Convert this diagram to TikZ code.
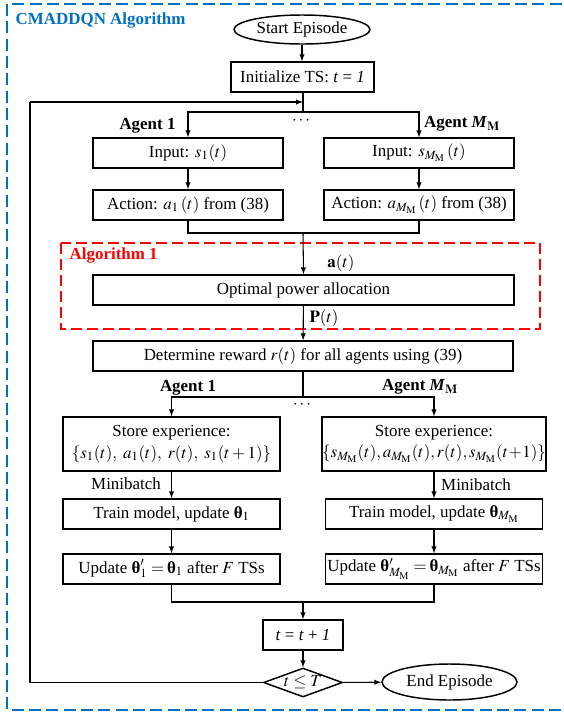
\documentclass[tikz,border=0pt]{standalone}
\usepackage{mathptmx}
\usepackage{amsmath}
\usepackage{fontspec}
\setmainfont{Liberation Serif}
\usetikzlibrary{shapes,arrows}
\definecolor{algblue}{RGB}{0,112,192}
\definecolor{algred}{RGB}{255,0,0}

\begin{document}
\begin{tikzpicture}[x=0.75pt, y=-0.75pt, >=latex,
    every node/.style={font=\fontsize{12.7}{15}\selectfont},
    box/.style={draw, line width=1.1pt, inner sep=0pt, minimum height=30*0.75pt, align=center},
    term/.style={draw, ellipse, line width=1.1pt, inner sep=0pt},
    decide/.style={draw, diamond, aspect=2.6, line width=1.1pt, inner sep=0pt, minimum width=79*0.75pt, minimum height=29*0.75pt},
    flow/.style={->, line width=0.8pt},
    link/.style={line width=0.8pt}]
    \useasboundingbox (0,0) rectangle (564,715);
    % frames
    \draw[algblue, line width=1.1pt, dash pattern=on 9pt off 4pt] (7,4) rectangle (575,710);
    \node[anchor=west, text=algblue, font=\fontsize{12.7}{15}\selectfont\bfseries] at (11,20) (title) {CMADDQN Algorithm};
    \draw[algred, line width=1.1pt, dash pattern=on 8pt off 4pt] (61,243) rectangle (540,329);
    \node[anchor=west, text=algred, font=\fontsize{12.7}{15}\selectfont\bfseries] at (65,255) (algo) {Algorithm 1};
    % top part
    \node[term, minimum width=136*0.75pt, minimum height=29*0.75pt] at (302,29.5) (start) {Start Episode};
    \node[box, minimum width=143*0.75pt] at (302.5,77) (init) {Initialize TS: \textit{t} = \textit{1}};
    \draw[flow] (start.south) -- (start.south |- init.north);
    \coordinate (join) at (303,102);
    \coordinate (loop) at (30,102);
    \coordinate (split1) at (303,112);
    \draw[link] (join |- init.south) -- (split1);
    \node[box, minimum width=190*0.75pt] at (188,153) (in1) {Input: $s_{1}(t)$};
    \node[box, minimum width=190*0.75pt] at (419,153) (inM) {Input: $s_{M_\mathrm{M}}\left(t\right)$};
    \draw[flow] (split1) -| (in1.north);
    \draw[flow] (split1) -| (inM.north);
    \node[font=\fontsize{12.7}{15}\selectfont\bfseries] at (147.5,126) (ag1) {Agent 1};
    \node[font=\fontsize{12.7}{15}\selectfont\bfseries] at (462,124) (agM) {Agent \textit{M}$_{\mathbf{M}}$};
    \node at (302,121) (dots1) {$\boldsymbol{\cdots}$};
    \node[box, minimum width=190*0.75pt] at (188,205) (act1) {Action: $a_{1}\left(t\right)$ from (38)};
    \node[box, minimum width=190*0.75pt] at (419,205) (actM) {Action: $a_{M_\mathrm{M}}\left(t\right)$ from (38)};
    \draw[flow] (in1) -- (act1);
    \draw[flow] (inM) -- (actM);
    \coordinate (mrg1) at (303,233);
    \draw[link] (act1.south) |- (mrg1) -| (actM.south);
    % power allocation
    \node[box, minimum width=421*0.75pt] at (303.5,290) (opt) {Optimal power allocation};
    \draw[flow] (mrg1) -- (opt.north);
    \node at (341,263) (at) {$\mathbf{a}(t)$};
    \node at (324,318) (pt) {$\mathbf{P}(t)$};
    \node[box, minimum width=420*0.75pt] at (303,356) (det) {Determine reward $r(t)$ for all agents using (39)};
    \draw[flow] (opt) -- (det);
    % learning part
    \coordinate (split2) at (303,397);
    \draw[link] (det.south) -- (split2);
    \node[box, minimum width=217*0.75pt, minimum height=54*0.75pt] at (171.5,444) (st1) {Store experience:\\[1pt] $\left\{s_{1}(t),\ a_{1}(t),\ r(t),\ s_{1}(t+1)\right\}$};
    \node[box, minimum width=217*0.75pt, minimum height=54*0.75pt] at (434,444) (stM) {Store experience:\\[1pt] $\left\{s_{M_\mathrm{M}}(t), a_{M_\mathrm{M}}(t), r(t), s_{M_\mathrm{M}}(t\!+\!1)\right\}$};
    \draw[flow] (split2) -| (st1.north);
    \draw[flow] (split2) -| (stM.north);
    \node[font=\fontsize{12.7}{15}\selectfont\bfseries] at (188,388) (ag1b) {Agent 1};
    \node[font=\fontsize{12.7}{15}\selectfont\bfseries] at (420,387) (agMb) {Agent \textit{M}$_{\mathbf{M}}$};
    \node at (303,405) (dots2) {$\boldsymbol{\cdots}$};
    \node[box, minimum width=217*0.75pt] at (171.5,514) (tr1) {Train model, update \textbf{θ}$_{1}$};
    \node[box, minimum width=217*0.75pt] at (434,514) (trM) {Train model, update \textbf{θ}$_{M_\mathrm{M}}$};
    \draw[flow] (st1) -- (tr1);
    \draw[flow] (stM) -- (trM);
    \node at (126,484) (mb1) {Minibatch};
    \node at (476,485) (mbM) {Minibatch};
    \node[box, minimum width=217*0.75pt] at (171.5,569) (up1) {Update \textbf{θ}$'_{1}=$\,\textbf{θ}$_{1}$ after $F$ TSs};
    \node[box, minimum width=217*0.75pt] at (434,569) (upM) {Update \textbf{θ}$'_{M_\mathrm{M}}=$\,\textbf{θ}$_{M_\mathrm{M}}$ after $F$ TSs};
    \draw[flow] (tr1) -- (up1);
    \draw[flow] (trM) -- (upM);
    \coordinate (mrg2) at (303,602);
    \draw[link] (up1.south) |- (mrg2) -| (upM.south);
    % episode loop
    \node[box, minimum width=80*0.75pt] at (303,635) (inc) {\textit{t} = \textit{t} + \textit{1}};
    \draw[flow] (mrg2) -- (inc.north);
    \node[decide] at (303,682.5) (chk) {$t\leq T$};
    \draw[flow] (inc) -- (chk);
    \node[term, minimum width=135*0.75pt, minimum height=36*0.75pt] at (449.5,682) (stop) {End Episode};
    \draw[flow] (chk) -- (stop);
    \draw[link] (chk.west) -| (loop);
    \draw[flow] (loop) -- (join);
\end{tikzpicture}
\end{document}
